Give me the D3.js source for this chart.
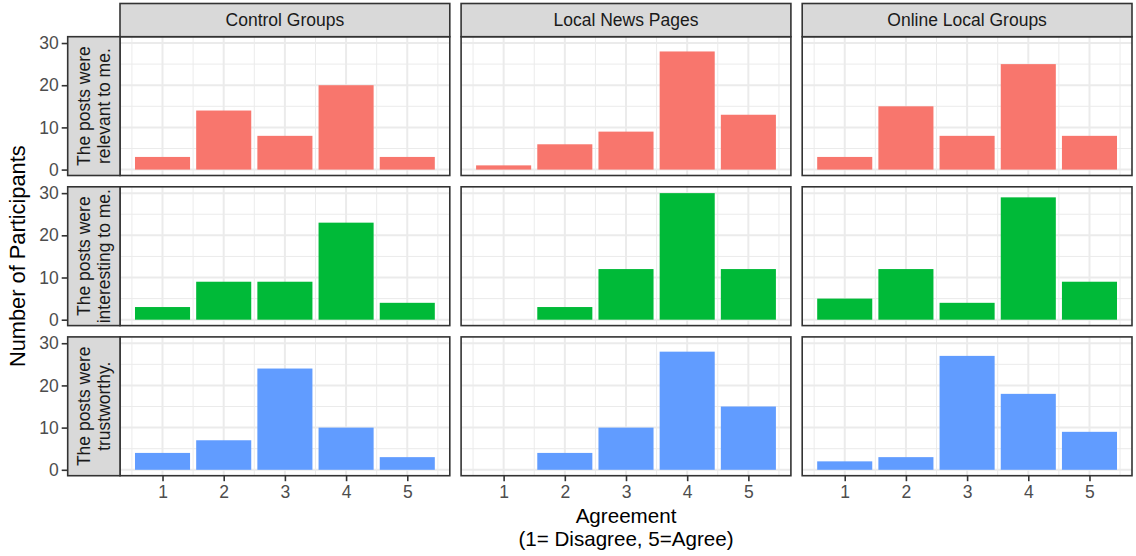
<!DOCTYPE html>
<html>
<head>
<meta charset="utf-8">
<script src="https://cdn.jsdelivr.net/npm/d3@7"></script>
<style>
  html, body { margin: 0; padding: 0; background: #fff; }
  svg { display: block; font-family: "Liberation Sans", Arial, Helvetica, sans-serif; }
</style>
</head>
<body>
<svg id="chart" width="1136" height="556"></svg>
<script>
// ---- data ----
const groups = ["Control Groups", "Local News Pages", "Online Local Groups"];
const statements = [
  ["The posts were", "relevant to me."],
  ["The posts were", "interesting to me."],
  ["The posts were", "trustworthy."]
];
const agreement = [1, 2, 3, 4, 5];
const yTicks = [0, 10, 20, 30];
// counts per group (Control, Local News, Online Local) for each agreement level
const relevant    = [[3, 14, 8, 20, 3], [1, 6, 9, 28, 13], [3, 15, 8, 25, 8]];
const interesting = [[3, 9, 9, 23, 4],  [0, 3, 12, 30, 12], [5, 12, 4, 29, 9]];
const trustworthy = [[4, 7, 24, 10, 3], [0, 4, 10, 28, 15], [2, 3, 27, 18, 9]];
const seriesByRow = [relevant, interesting, trustworthy];
const rowColors = ["#F8766D", "#00BA38", "#619CFF"];
const xTitle = ["Agreement", "(1= Disagree, 5=Agree)"];
const yTitle = "Number of Participants";

// ---- layout ----
const svg = d3.select("#chart");
const pLeft = 120, pRight = 1132, pTop = 36.7, pBottom = 475.7, gap = 11.3;
const panelW = (pRight - pLeft - 2 * gap) / 3;
const panelH = (pBottom - pTop - 2 * gap) / 3;
const stripTop = 3.5;
const rowStripX = 67.7;

const x = d3.scaleLinear().domain([0.305, 5.695]).range([0, panelW]);
const y = d3.scaleLinear().domain([-1.4, 31.5]).range([panelH, 0]);
const barW = x(1.45) - x(0.55);

const xMinor = [0.5, 1.5, 2.5, 3.5, 4.5, 5.5];
const yMinor = [5, 15, 25];

for (let r = 0; r < 3; r++) {
  for (let c = 0; c < 3; c++) {
    const px = pLeft + c * (panelW + gap);
    const py = pTop + r * (panelH + gap);
    const g = svg.append("g").attr("transform", `translate(${px},${py})`);
    g.append("rect").attr("width", panelW).attr("height", panelH).attr("fill", "#fff");
    // minor grid
    g.selectAll(".xm").data(xMinor).enter().append("line")
      .attr("x1", d => x(d)).attr("x2", d => x(d)).attr("y1", 0).attr("y2", panelH)
      .attr("stroke", "#EBEBEB").attr("stroke-width", 1);
    g.selectAll(".ym").data(yMinor).enter().append("line")
      .attr("y1", d => y(d)).attr("y2", d => y(d)).attr("x1", 0).attr("x2", panelW)
      .attr("stroke", "#EBEBEB").attr("stroke-width", 1);
    // major grid
    g.selectAll(".xM").data(agreement).enter().append("line")
      .attr("x1", d => x(d)).attr("x2", d => x(d)).attr("y1", 0).attr("y2", panelH)
      .attr("stroke", "#EBEBEB").attr("stroke-width", 2);
    g.selectAll(".yM").data(yTicks).enter().append("line")
      .attr("y1", d => y(d)).attr("y2", d => y(d)).attr("x1", 0).attr("x2", panelW)
      .attr("stroke", "#EBEBEB").attr("stroke-width", 2);
    // bars
    const vals = seriesByRow[r][c];
    g.selectAll(".bar").data(agreement.map((a, i) => ({a, v: vals[i]})).filter(d => d.v > 0))
      .enter().append("rect")
      .attr("x", d => x(d.a) - barW / 2)
      .attr("width", barW)
      .attr("y", d => y(d.v))
      .attr("height", d => y(0) - y(d.v))
      .attr("fill", rowColors[r]);
    // border
    g.append("rect").attr("width", panelW).attr("height", panelH)
      .attr("fill", "none").attr("stroke", "#333333").attr("stroke-width", 1.6);

    // x axis on bottom row
    if (r === 2) {
      const ax = g.append("g").attr("transform", `translate(0,${panelH})`)
        .call(d3.axisBottom(x).tickValues(agreement).tickFormat(d3.format("d")).tickSize(5.5).tickPadding(4));
      ax.select(".domain").remove();
      ax.selectAll(".tick line").attr("stroke", "#333333").attr("stroke-width", 1.6);
      ax.selectAll(".tick text").attr("fill", "#4D4D4D").style("font-size", "17.5px")
        .style("font-family", "Liberation Sans, Arial, sans-serif");
    }
    // column strip
    if (r === 0) {
      const sg = svg.append("g").attr("transform", `translate(${px},${stripTop})`);
      sg.append("rect").attr("width", panelW).attr("height", pTop - stripTop)
        .attr("fill", "#D9D9D9").attr("stroke", "#333333").attr("stroke-width", 1.6);
      sg.append("text").attr("x", panelW / 2).attr("y", (pTop - stripTop) / 2 + 6.2)
        .attr("text-anchor", "middle").attr("fill", "#1A1A1A").style("font-size", "17.5px")
        .text(groups[c]);
    }
  }
  // row strip + y axis
  const py = pTop + r * (panelH + gap);
  const rs = svg.append("g").attr("transform", `translate(${rowStripX},${py})`);
  const rsW = pLeft - rowStripX;
  rs.append("rect").attr("width", rsW).attr("height", panelH)
    .attr("fill", "#D9D9D9").attr("stroke", "#333333").attr("stroke-width", 1.6);
  const rt = rs.append("text")
    .attr("transform", `translate(${rsW / 2 - 3.8},${panelH / 2}) rotate(-90)`)
    .attr("text-anchor", "middle").attr("fill", "#1A1A1A").style("font-size", "17.5px");
  statements[r].forEach((t, i) => {
    rt.append("tspan").attr("x", 0).attr("dy", i === 0 ? 0 : 20).text(t);
  });
  const ay = svg.append("g").attr("transform", `translate(${rowStripX},${py})`)
    .call(d3.axisLeft(y).tickValues(yTicks).tickSize(6).tickPadding(3));
  ay.select(".domain").remove();
  ay.selectAll(".tick line").attr("stroke", "#333333").attr("stroke-width", 1.6);
  ay.selectAll(".tick text").attr("fill", "#4D4D4D").style("font-size", "17.5px")
    .style("font-family", "Liberation Sans, Arial, sans-serif");
}

// axis titles
const midX = (pLeft + pRight) / 2;
const xt = svg.append("text").attr("y", 522.5).attr("text-anchor", "middle")
  .attr("fill", "#000").style("font-size", "20.6px");
xTitle.forEach((t, i) => {
  xt.append("tspan").attr("x", midX).attr("dy", i === 0 ? 0 : 23.5).text(t);
});
svg.append("text")
  .attr("transform", `translate(25,${(pTop + pBottom) / 2}) rotate(-90)`)
  .attr("text-anchor", "middle").attr("fill", "#000").style("font-size", "21.8px")
  .text(yTitle);
</script>
</body>
</html>
